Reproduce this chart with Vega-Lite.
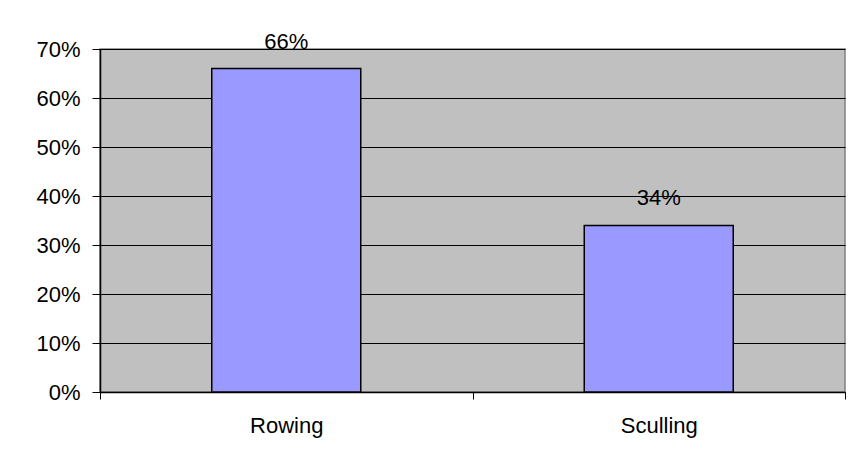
{
  "$schema": "https://vega.github.io/schema/vega-lite/v6.json",
  "width": 745,
  "height": 343,
  "autosize": {"type": "none"},
  "padding": {"left": 100, "top": 49, "right": 9, "bottom": 74},
  "background": "white",
  "config": {
    "font": "Liberation Sans",
    "view": {"fill": "#C0C0C0", "stroke": "#808080", "strokeWidth": 1.5}
  },
  "data": {
    "values": [
      {"sport": "Rowing", "share": 0.66},
      {"sport": "Sculling", "share": 0.34}
    ]
  },
  "encoding": {
    "x": {
      "field": "sport",
      "type": "nominal",
      "sort": null,
      "scale": {"paddingInner": 0, "paddingOuter": 0},
      "axis": {
        "title": null,
        "labelAngle": 0,
        "labelFont": "Liberation Sans",
        "labelFontSize": 22,
        "labelColor": "black",
        "labelPadding": 16,
        "tickBand": "extent",
        "tickSize": 7,
        "tickColor": "black",
        "domainColor": "black",
        "domainWidth": 1.5
      }
    },
    "y": {
      "field": "share",
      "type": "quantitative",
      "scale": {"domain": [0, 0.7]},
      "axis": {
        "title": null,
        "format": ".0%",
        "values": [0, 0.1, 0.2, 0.3, 0.4, 0.5, 0.6, 0.7],
        "grid": true,
        "gridColor": "black",
        "gridOpacity": 1,
        "gridWidth": 1,
        "tickSize": 8,
        "tickColor": "black",
        "domainColor": "black",
        "domainWidth": 1.5,
        "labelFont": "Liberation Sans",
        "labelFontSize": 22,
        "labelColor": "black",
        "labelPadding": 12
      }
    }
  },
  "layer": [
    {
      "mark": {"type": "bar", "width": {"band": 0.4}, "color": "#9999FF", "stroke": "black", "strokeWidth": 1.5}
    },
    {
      "mark": {"type": "text", "baseline": "alphabetic", "dy": -20, "fontSize": 22, "color": "black", "font": "Liberation Sans"},
      "encoding": {"text": {"field": "share", "format": ".0%"}}
    }
  ]
}
